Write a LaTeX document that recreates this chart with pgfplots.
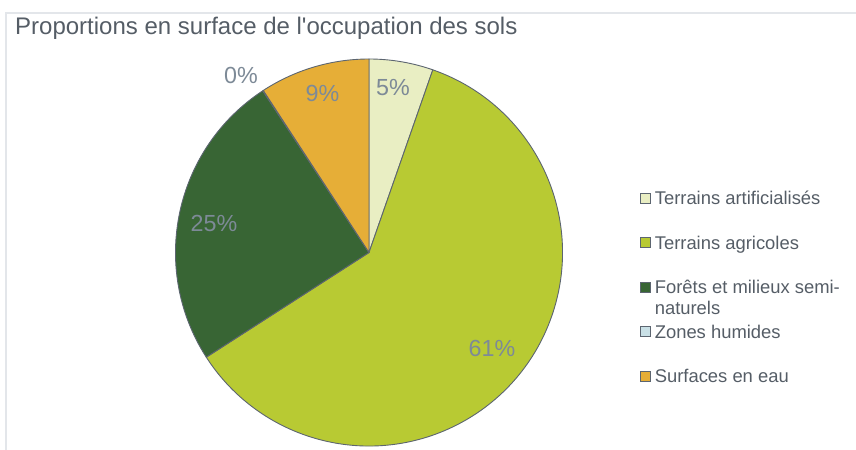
\documentclass[border=0pt]{standalone}
\usepackage{pgfplots}
\usepackage{pgfplotstable}
\pgfplotsset{compat=1.18}
\usepackage{fontspec}
\setmainfont{Liberation Sans}

\definecolor{cArt}{HTML}{E9EEC3}
\definecolor{cAgr}{HTML}{B8CA33}
\definecolor{cFor}{HTML}{386534}
\definecolor{cZon}{HTML}{C9E0E6}
\definecolor{cEau}{HTML}{E6AE37}
\definecolor{edge}{HTML}{5C6570}
\definecolor{lbl}{HTML}{7D8A97}
\definecolor{txt}{HTML}{555D66}
\definecolor{framec}{HTML}{E3E6EA}

\pgfdeclareplotmark{emptymark}{}
\newcommand\wedgecolor[1]{\ifcase#1 cArt\or cAgr\or cFor\or cZon\or cEau\fi}

% share in percent, cumulative start (clockwise from the top), colour index
\pgfplotstableread{
cx cy share start ci
369 197.5 5.35 0 0
369 197.5 60.55 5.35 1
369 197.5 24.85 65.90 2
369 197.5 0.05 90.75 3
369 197.5 9.20 90.80 4
}\pietable

\pgfplotstableread{
x y lab
393 362 5
492 102 61
214 226.5 25
241 375 0
322.5 356.5 9
}\labtable

\begin{document}
\begin{tikzpicture}
\path[use as bounding box] (0,0) rectangle (856bp,450bp);
\begin{axis}[
  at={(0,0)}, anchor=south west,
  width=856bp, height=450bp, scale only axis,
  xmin=0, xmax=856, ymin=0, ymax=450,
  hide axis, clip=false,
  title={Proportions en surface de l\textquotesingle occupation des sols},
  title style={at={(0.01752,0.90956)}, anchor=base west, inner sep=0pt,
    font=\fontsize{24bp}{29bp}\selectfont, text=txt},
  legend style={at={(0.74766,0.57556)}, anchor=north west, draw=none, fill=none,
    inner sep=0pt, outer sep=0pt, row sep=30.5bp, column sep=4bp,
    font=\fontsize{18.4bp}{21bp}\selectfont, text=txt,
    nodes={inner sep=0pt, text height=14bp, text depth=0bp}},
  legend cell align=left,
  legend image code/.code={\draw[#1, line width=0.8bp] (0bp,-5bp) rectangle (10bp,5bp);},
]
% frame
\addplot[forget plot, draw=framec, line width=2bp] coordinates {(6.2,0) (6.2,436.7) (856,436.7)};

% pie wedges
\addplot[forget plot, scatter, only marks, mark=emptymark,
  point meta=\thisrow{share},
  visualization depends on={\thisrow{ci} \as \wci},
  visualization depends on={90-3.6*\thisrow{start} \as \wsa},
  visualization depends on={90-3.6*(\thisrow{start}+\thisrow{share}) \as \wea},
  scatter/@pre marker code/.code={%
    \pgfmathtruncatemacro\wk{\wci}%
    \edef\wcol{\wedgecolor{\wk}}%
    \path[fill=\wcol, draw=edge, line width=0.9bp, line join=round]
      (0,0) -- (\wsa:193.5bp) arc[start angle=\wsa, end angle=\wea, radius=193.5bp] -- cycle;},
  scatter/@post marker code/.code={},
] table[x=cx, y=cy] {\pietable};

% percentage labels
\addplot[forget plot, only marks, mark=emptymark, point meta=explicit symbolic,
  nodes near coords={\pgfplotspointmeta\%},
  every node near coord/.append style={anchor=center, inner sep=0pt,
    font=\fontsize{23.3bp}{28bp}\selectfont, text=lbl},
] table[x=x, y=y, meta=lab] {\labtable};

\addlegendimage{fill=cArt, draw=edge}
\addlegendimage{fill=cAgr, draw=edge}
\addlegendimage{fill=cFor, draw=edge}
\addlegendimage{fill=cZon, draw=edge}
\addlegendimage{fill=cEau, draw=edge}
\legend{Terrains artificialisés, Terrains agricoles,
  {\begin{tabular}[t]{@{}l@{}}Forêts et milieux semi-\\naturels\end{tabular}},
  Zones humides, Surfaces en eau}
\end{axis}
\end{tikzpicture}
\end{document}
